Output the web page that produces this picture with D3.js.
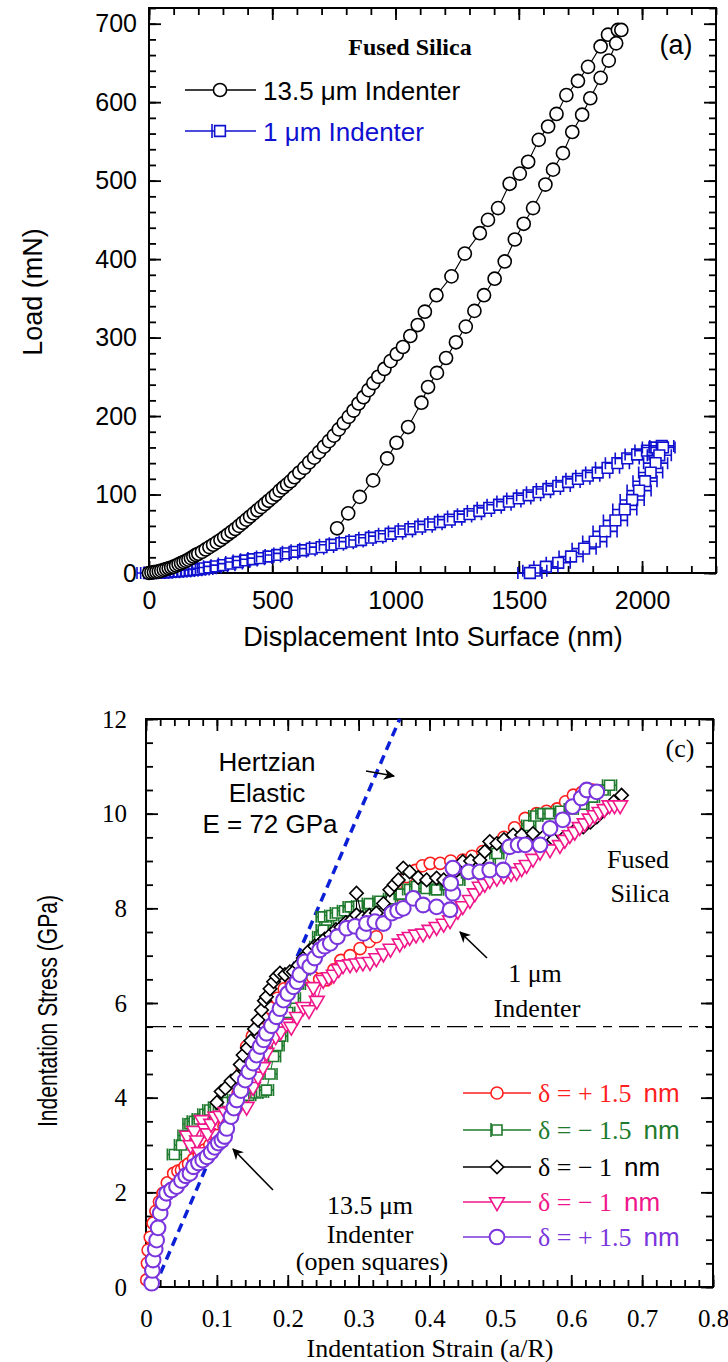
<!DOCTYPE html>
<html>
<head>
<meta charset="utf-8">
<script src="https://cdn.jsdelivr.net/npm/d3@7"></script>
<style>
  body { margin: 0; background: #fff; }
  svg  { display: block; }
</style>
</head>
<body>
<svg width="728" height="1362"></svg>
<script>

const sans  = "'Liberation Sans', Arial, sans-serif";
const serif = "'Liberation Serif', 'Times New Roman', serif";

// ---------- panel (a) data : [displacement nm, load mN] ----------
const bigTipLoad = [
  [0,0],[10,0.5],[20,1],[30,1.5],[40,2],[50,3],[60,4],[70,5],[80,6],[90,7],
  [100,8],[110,9.5],[120,11],[130,12.5],[140,14],[150,15.5],[160,17],[170,19],[180,21],[190,23],
  [200,24.5],[215,27],[230,30],[245,33],[260,36],[275,39],[290,42],[305,45.5],[320,49],[335,52.5],
  [350,56],[365,60],[380,64],[395,68],[410,72],[425,76],[440,80],[455,84],[470,88],[485,92],
  [500,96],[515,100],[530,105],[545,109],[560,113],[575,117],[590,122],[610,128],[630,134],[650,141],
  [670,147],[690,154],[710,161],[730,168],[750,175],[770,183],[790,191],[810,199],[830,207],[850,216],
  [870,224],[890,233],[910,242],[930,250],[955,260],[980,270],[1005,279],[1030,288],[1060,302],[1090,316],
  [1119,333],[1166,354],[1227,378],[1281,407],[1342,433],[1375,450],[1416,465],[1463,496],[1504,509],[1538,524],
  [1581,552],[1619,569],[1653,585],[1693,609],[1740,627],[1781,645],[1832,671],[1862,686],[1902,692]
];
const bigTipUnload = [
  [1916,692],[1895,675],[1865,653],[1832,631],[1790,605],[1757,584],[1717,562],[1679,535],[1639,514],[1608,495],
  [1558,465],[1520,445],[1484,425],[1443,397],[1402,375],[1359,354],[1320,334],[1285,314],[1245,294],[1205,274],
  [1168,255],[1132,237],[1105,217],[1051,186],[1004,166],[966,146],[909,118],[855,97],[808,76],[763,57]
];
const smallTipLoad = [
  [0,0],[15,0],[30,0.5],[45,0.5],[60,1],[75,1],[90,1.5],[105,2],[120,2],[135,2.5],
  [150,3],[165,3.5],[180,4],[195,4.5],[210,5],[225,6],[245,7],[270,8.5],[300,10],[330,12],
  [360,14],[390,16],[420,17.5],[450,19],[485,21],[520,23],[555,25],[590,27],[625,29],[660,31],
  [700,33],[740,36],[780,38],[820,40],[860,42],[900,45],[940,47],[980,50],[1020,53],[1060,56],
  [1100,59],[1140,62],[1180,65],[1220,68],[1260,72],[1300,75],[1340,79],[1380,83],[1420,87],[1460,91],
  [1500,95],[1540,99],[1580,103],[1620,107],[1660,111],[1700,116],[1740,120],[1780,124],[1820,128],[1860,134],
  [1900,140],[1940,146],[1980,151],[2020,156],[2050,160],[2080,162]
];
const smallTipUnload = [
  [2085,160],[2070,150],[2055,140],[2035,128],[2012,117],[1988,105],[1960,93],[1930,81],[1892,67],[1850,53],
  [1808,40],[1765,31],[1712,21],[1660,13],[1610,8],[1565,3],[1545,0]
];
const aXTicks = [0, 500, 1000, 1500, 2000];
const aYTicks = [0, 100, 200, 300, 400, 500, 600, 700];

// ---------- panel (c) data : [strain a/R, stress GPa] ----------
const plus15red = [
  [0.001,0.15],[0.002,0.5],[0.003,0.78],[0.006,1.05],[0.01,1.35],[0.014,1.6],[0.019,1.8],[0.024,1.98],[0.03,2.2],[0.034,2.05],
  [0.039,2.4],[0.045,2.45],[0.05,2.47],[0.055,2.55],[0.06,2.6],[0.067,2.7],[0.075,2.8],[0.083,2.9],[0.09,3.0],[0.1,3.2],
  [0.11,3.4],[0.12,3.7],[0.13,4.1],[0.136,4.6],[0.142,5.08],[0.15,5.3],[0.158,5.5],[0.165,5.7],[0.175,5.9],[0.185,6.1],
  [0.195,6.3],[0.205,6.4],[0.215,6.45],[0.225,6.5],[0.235,6.55],[0.245,6.5],[0.255,6.49],[0.265,6.7],[0.275,6.9],[0.288,7.0],
  [0.302,7.15],[0.315,7.3],[0.325,7.4],[0.335,7.7],[0.345,8.0],[0.355,8.3],[0.368,8.67],[0.38,8.8],[0.39,8.9],[0.401,8.95],
  [0.415,8.95],[0.43,9.0],[0.447,9.02],[0.46,9.1],[0.475,9.2],[0.49,9.35],[0.505,9.5],[0.52,9.7],[0.535,9.9],[0.551,10.0],
  [0.565,10.05],[0.58,10.1],[0.592,10.25],[0.603,10.39],[0.615,10.45],[0.63,10.5]
];
const minus15green = [
  [0.04,2.8],[0.05,3.0],[0.055,3.2],[0.062,3.45],[0.068,3.5],[0.075,3.55],[0.083,3.65],[0.09,3.74],[0.098,3.8],[0.105,3.85],
  [0.115,3.9],[0.125,3.95],[0.135,4.0],[0.145,4.05],[0.155,4.1],[0.163,4.12],[0.17,4.16],[0.175,4.5],[0.18,4.87],[0.185,5.1],
  [0.19,5.3],[0.195,5.55],[0.2,5.8],[0.208,6.1],[0.215,6.4],[0.222,6.7],[0.228,6.95],[0.235,7.05],[0.241,7.19],[0.245,7.4],
  [0.25,7.54],[0.255,7.75],[0.25,7.82],[0.262,7.85],[0.27,7.9],[0.28,7.95],[0.288,8.03],[0.3,8.05],[0.315,8.1],[0.33,8.15],
  [0.345,8.2],[0.36,8.3],[0.372,8.4],[0.382,8.46],[0.395,8.42],[0.41,8.39],[0.425,8.5],[0.44,8.6],[0.455,8.75],[0.47,8.9],
  [0.483,9.05],[0.495,9.16],[0.51,9.3],[0.525,9.5],[0.54,9.75],[0.55,9.95],[0.56,10.0],[0.57,10.0],[0.585,10.05],[0.6,10.1],
  [0.615,10.2],[0.63,10.35],[0.645,10.5],[0.654,10.6]
];
const minus1black = [
  [0.1,3.9],[0.106,4.13],[0.112,4.2],[0.12,4.35],[0.128,4.44],[0.133,4.7],[0.137,4.9],[0.143,5.05],[0.148,5.2],[0.153,5.45],
  [0.158,5.64],[0.163,5.85],[0.167,6.05],[0.17,6.13],[0.175,6.3],[0.18,6.45],[0.184,6.56],[0.189,6.63],[0.196,6.6],[0.203,6.66],
  [0.208,6.66],[0.215,6.8],[0.222,6.95],[0.23,7.1],[0.238,7.2],[0.245,7.25],[0.252,7.35],[0.26,7.44],[0.268,7.55],[0.275,7.6],
  [0.282,7.7],[0.29,7.75],[0.297,7.86],[0.297,8.32],[0.305,7.8],[0.315,7.85],[0.325,7.9],[0.335,8.1],[0.344,8.39],[0.35,8.5],
  [0.356,8.6],[0.363,8.85],[0.372,8.77],[0.384,8.65],[0.396,8.6],[0.41,8.64],[0.42,8.6],[0.429,8.6],[0.438,8.8],[0.447,8.99],
  [0.458,9.0],[0.471,9.02],[0.478,9.2],[0.485,9.41],[0.495,9.37],[0.505,9.45],[0.518,9.55],[0.53,9.55],[0.546,9.58],[0.56,9.5],
  [0.575,9.45],[0.59,9.5],[0.603,9.62],[0.617,9.72],[0.627,9.82],[0.636,9.93],[0.648,10.1],[0.66,10.25],[0.671,10.39]
];
const minus1pink = [
  [0.058,3.2],[0.063,3.0],[0.068,3.3],[0.072,3.1],[0.075,2.85],[0.079,3.53],[0.083,3.35],[0.087,3.25],[0.092,3.45],[0.098,3.6],
  [0.105,3.62],[0.112,3.7],[0.12,3.72],[0.13,3.78],[0.142,3.81],[0.151,4.23],[0.158,4.45],[0.165,4.65],[0.17,4.95],[0.175,5.22],
  [0.183,5.3],[0.19,5.4],[0.198,5.57],[0.205,5.5],[0.213,5.71],[0.222,5.92],[0.23,5.85],[0.236,6.34],[0.241,6.05],[0.25,6.49],
  [0.258,6.55],[0.265,6.6],[0.272,6.72],[0.278,6.8],[0.288,6.82],[0.297,6.84],[0.306,6.86],[0.316,6.87],[0.325,6.95],[0.335,7.05],
  [0.345,7.15],[0.358,7.26],[0.365,7.35],[0.372,7.4],[0.381,7.45],[0.391,7.47],[0.4,7.55],[0.41,7.61],[0.42,7.68],[0.429,7.75],
  [0.44,7.95],[0.447,8.05],[0.457,8.18],[0.464,8.32],[0.471,8.46],[0.478,8.52],[0.485,8.6],[0.495,8.65],[0.505,8.7],[0.515,8.75],
  [0.523,8.77],[0.53,8.85],[0.537,8.92],[0.546,9.05],[0.556,9.2],[0.57,9.25],[0.584,9.34],[0.591,9.45],[0.598,9.55],[0.605,9.62],
  [0.612,9.72],[0.619,9.8],[0.626,9.9],[0.633,9.97],[0.64,10.04],[0.647,10.1],[0.654,10.18],[0.661,10.18],[0.669,10.18]
];
const plus15purple = [
  [0.008,0.08],[0.009,0.35],[0.01,0.57],[0.013,0.8],[0.015,0.99],[0.017,1.25],[0.02,1.56],[0.024,1.78],[0.029,1.98],[0.036,2.05],
  [0.043,2.12],[0.05,2.25],[0.056,2.35],[0.062,2.4],[0.067,2.54],[0.074,2.62],[0.08,2.68],[0.086,2.75],[0.092,2.85],[0.097,2.95],
  [0.102,3.04],[0.107,3.1],[0.111,3.18],[0.114,3.35],[0.12,3.6],[0.124,3.78],[0.128,3.95],[0.134,4.15],[0.14,4.37],[0.145,4.55],
  [0.151,4.73],[0.156,4.9],[0.161,5.08],[0.166,5.22],[0.17,5.36],[0.177,5.52],[0.184,5.71],[0.189,5.88],[0.194,6.06],[0.2,6.2],
  [0.208,6.34],[0.213,6.45],[0.217,6.6],[0.224,6.87],[0.231,6.77],[0.238,6.95],[0.245,7.12],[0.252,7.2],[0.26,7.26],[0.27,7.4],
  [0.283,7.58],[0.295,7.62],[0.307,7.47],[0.311,7.68],[0.323,7.72],[0.335,7.68],[0.347,7.9],[0.355,7.95],[0.363,8.0],[0.377,8.21],
  [0.391,8.07],[0.41,8.03],[0.429,7.97],[0.433,8.32],[0.43,8.53],[0.433,8.85],[0.455,8.77],[0.471,8.77],[0.485,8.81],[0.504,8.81],
  [0.513,9.3],[0.525,9.34],[0.535,9.34],[0.556,9.34],[0.57,9.69],[0.588,9.87],[0.602,10.15],[0.614,10.33],[0.622,10.5],[0.636,10.46]
];
// Hertzian elastic prediction, E = 72 GPa
const hertzStrain = [0.012, 0.358];
const hertzStress = [0.0, 12.0];
const yieldStress = 5.5;

const cXTicks = [0, 0.1, 0.2, 0.3, 0.4, 0.5, 0.6, 0.7, 0.8];
const cYTicks = [0, 2, 4, 6, 8, 10, 12];

const seriesC = [
  {label: "δ = + 1.5", unit: "nm", color: "#ff1f1f", shape: "circle",   data: plus15red},
  {label: "δ = − 1.5", unit: "nm", color: "#1e7a2c", shape: "square",   data: minus15green},
  {label: "δ = − 1",   unit: "nm", color: "#000000", shape: "diamond",  data: minus1black},
  {label: "δ = − 1",   unit: "nm", color: "#f0168a", shape: "triangle", data: minus1pink},
  {label: "δ = + 1.5", unit: "nm", color: "#7b35dc", shape: "bigcircle", data: plus15purple}
];

const svg = d3.select("svg");

// ---------- helpers ----------
function drawFrame(g, x, y, o) {
  const [x0, x1] = x.range();
  const [y0, y1] = y.range();
  const sides = [
    {ax: d3.axisBottom, t: `translate(0,${y0})`, s: x, v: o.xMinor, maj: o.xMajor, lab: true},
    {ax: d3.axisTop,    t: `translate(0,${y1})`, s: x, v: o.xMinor, maj: o.xMajor, lab: false},
    {ax: d3.axisLeft,   t: `translate(${x0},0)`, s: y, v: o.yMinor, maj: o.yMajor, lab: true},
    {ax: d3.axisRight,  t: `translate(${x1},0)`, s: y, v: o.yMinor, maj: o.yMajor, lab: false}
  ];
  sides.forEach(sd => {
    g.append("g").attr("transform", sd.t)
      .call(sd.ax(sd.s).tickValues(sd.v).tickSize(-o.minorLen).tickFormat(""))
      .call(a => a.select(".domain").remove());
    const a = g.append("g").attr("transform", sd.t)
      .call(sd.ax(sd.s).tickValues(sd.maj).tickSize(-o.majorLen)
        .tickPadding(sd.ax === d3.axisBottom ? o.xPad : o.yPad)
        .tickFormat(sd.lab ? o.fmt : ""));
    a.select(".domain").remove();
    a.selectAll("text").attr("font-family", o.font).attr("font-size", o.fontSize).attr("fill", "#000");
  });
  g.selectAll(".tick line").attr("stroke", "#000").attr("stroke-width", 1.8);
  g.append("rect")
    .attr("x", x0).attr("y", y1).attr("width", x1 - x0).attr("height", y0 - y1)
    .attr("fill", "none").attr("stroke", "#000").attr("stroke-width", 2);
}

function marker(shape) {
  if (shape === "circle")    return d3.symbol().type(d3.symbolCircle).size(115)();
  if (shape === "bigcircle") return d3.symbol().type(d3.symbolCircle).size(170)();
  if (shape === "square")    return d3.symbol().type(d3.symbolSquare).size(100)();
  if (shape === "diamond")   return d3.symbol().type(d3.symbolSquare).size(90)();
  if (shape === "triangle")  return d3.symbol().type(d3.symbolTriangle).size(95)();
  if (shape === "bigcircleA") return d3.symbol().type(d3.symbolCircle).size(135)();
  if (shape === "squareA")   return d3.symbol().type(d3.symbolSquare).size(115)();
}
function markerRot(shape) {
  if (shape === "diamond")  return " rotate(45)";
  if (shape === "triangle") return " rotate(180)";
  return "";
}

// draws one series: connecting line, optional x error bars, markers
function drawSeries(g, data, x, y, o) {
  const line = d3.line().x(d => x(d[0])).y(d => y(d[1]));
  g.append("path").datum(data).attr("d", line)
    .attr("fill", "none").attr("stroke", o.color).attr("stroke-width", 1.1);
  const pts = g.selectAll(null).data(data).enter().append("g")
    .attr("transform", d => `translate(${x(d[0])},${y(d[1])})`);
  if (o.errBar) {
    pts.append("path")
      .attr("d", `M${-o.errBar},0H${o.errBar}M${-o.errBar},${-o.cap}V${o.cap}M${o.errBar},${-o.cap}V${o.cap}`)
      .attr("fill", "none").attr("stroke", o.color).attr("stroke-width", o.sw);
  }
  pts.append("path")
    .attr("d", marker(o.shape))
    .attr("transform", "translate(0,0)" + markerRot(o.shape))
    .attr("fill", "#fff").attr("stroke", o.color).attr("stroke-width", o.sw);
}

// ================= panel (a) =================
const xa = d3.scaleLinear().domain([0, 2300]).range([149, 716]);
const ya = d3.scaleLinear().domain([0, 720]).range([573, 8]);
const gA = svg.append("g");

drawFrame(gA, xa, ya, {
  xMajor: aXTicks, yMajor: aYTicks,
  xMinor: d3.range(0, 2301, 100), yMinor: d3.range(0, 721, 20),
  majorLen: 12, minorLen: 7, xPad: 18, yPad: 12,
  fmt: d3.format("d"), font: sans, fontSize: 25
});

const gAData = gA.append("g");
drawSeries(gAData, smallTipLoad.concat(smallTipUnload), xa, ya,
  {color: "#1010d0", shape: "squareA", sw: 1.6, errBar: 12, cap: 6});
drawSeries(gAData, bigTipLoad.concat(bigTipUnload), xa, ya,
  {color: "#000", shape: "bigcircleA", sw: 1.6});

// legend (a)
const legA = gA.append("g");
[{txt: "13.5 μm Indenter", color: "#000", shape: "bigcircleA", y: 90},
 {txt: "1 μm Indenter",    color: "#1010d0", shape: "squareA", y: 131, err: true}]
.forEach(r => {
  legA.append("line").attr("x1", 185).attr("x2", 256).attr("y1", r.y).attr("y2", r.y)
    .attr("stroke", r.color).attr("stroke-width", 1.6);
  if (r.err) legA.append("line").attr("x1", 212).attr("x2", 212).attr("y1", r.y - 7).attr("y2", r.y + 7)
    .attr("stroke", r.color).attr("stroke-width", 1.6);
  legA.append("path").attr("d", marker(r.shape)).attr("transform", `translate(220,${r.y})`)
    .attr("fill", "#fff").attr("stroke", r.color).attr("stroke-width", 1.6);
  legA.append("text").attr("x", 263).attr("y", r.y + 10).text(r.txt)
    .attr("font-family", sans).attr("font-size", 26).attr("fill", r.color);
});
gA.append("text").attr("x", 410).attr("y", 55).attr("text-anchor", "middle")
  .attr("font-family", serif).attr("font-weight", "bold").attr("font-size", 24).text("Fused Silica");
gA.append("text").attr("x", 676).attr("y", 54).attr("text-anchor", "middle")
  .attr("font-family", sans).attr("font-size", 27).text("(a)");

gA.append("text").attr("x", 433).attr("y", 646).attr("text-anchor", "middle")
  .attr("font-family", sans).attr("font-size", 27).text("Displacement Into Surface (nm)");
gA.append("text").attr("transform", "translate(42,292) rotate(-90)").attr("text-anchor", "middle")
  .attr("font-family", sans).attr("font-size", 27).text("Load (mN)");

// ================= panel (c) =================
const xc = d3.scaleLinear().domain([0, 0.8]).range([146, 713]);
const yc = d3.scaleLinear().domain([0, 12]).range([1287, 719]);
const gC = svg.append("g");

drawFrame(gC, xc, yc, {
  xMajor: cXTicks, yMajor: cYTicks,
  xMinor: d3.range(0, 0.801, 0.02), yMinor: d3.range(0, 12.01, 0.5),
  majorLen: 12, minorLen: 7, xPad: 22, yPad: 19,
  fmt: d => d3.format("")(d), font: serif, fontSize: 25
});

// yield level and Hertzian line
gC.append("line").attr("x1", xc(0)).attr("x2", xc(0.8)).attr("y1", yc(yieldStress)).attr("y2", yc(yieldStress))
  .attr("stroke", "#000").attr("stroke-width", 1.4).attr("stroke-dasharray", "20,7,9,7");
gC.append("path").datum(d3.zip(hertzStrain, hertzStress))
  .attr("d", d3.line().x(d => xc(d[0])).y(d => yc(d[1])))
  .attr("fill", "none").attr("stroke", "#0b1fd6").attr("stroke-width", 3.5).attr("stroke-dasharray", "9,6");

const gCData = gC.append("g");
seriesC.forEach(s => {
  drawSeries(gCData, s.data, xc, yc, {
    color: s.color, shape: s.shape,
    sw: s.shape === "bigcircle" ? 2.1 : 1.6,
    errBar: s.shape === "square" ? 7 : 0, cap: 6
  });
});

// legend (c)
const legC = gC.append("g");
const legRows = [1093, 1130, 1167, 1202, 1237];
seriesC.forEach((s, i) => {
  const y = legRows[i];
  legC.append("line").attr("x1", 463).attr("x2", 531).attr("y1", y).attr("y2", y)
    .attr("stroke", s.color).attr("stroke-width", 1.6);
  if (s.shape === "square") legC.append("line").attr("x1", 491).attr("x2", 491).attr("y1", y - 7).attr("y2", y + 7)
    .attr("stroke", s.color).attr("stroke-width", 1.6);
  legC.append("path").attr("d", marker(s.shape)).attr("transform", `translate(497,${y})` + markerRot(s.shape))
    .attr("fill", "#fff").attr("stroke", s.color).attr("stroke-width", s.shape === "bigcircle" ? 2 : 1.6);
  const t = legC.append("text").attr("x", 538).attr("y", y + 9).attr("fill", s.color).attr("font-size", 26);
  t.append("tspan").attr("font-family", serif).text(s.label);
  t.append("tspan").attr("font-family", sans).attr("dx", 12).text(s.unit);
});

// annotations (c)
const annC = gC.append("g").attr("text-anchor", "middle").attr("font-size", 26);
annC.append("text").attr("x", 267).attr("y", 771).attr("font-family", sans).text("Hertzian");
annC.append("text").attr("x", 267).attr("y", 802).attr("font-family", sans).text("Elastic");
annC.append("text").attr("x", 270).attr("y", 833).attr("font-family", sans).text("E = 72 GPa");
annC.append("text").attr("x", 638).attr("y", 868).attr("font-family", serif).text("Fused");
annC.append("text").attr("x", 640).attr("y", 902).attr("font-family", serif).text("Silica");
annC.append("text").attr("x", 535).attr("y", 982).attr("font-family", serif).text("1 μm");
annC.append("text").attr("x", 537).attr("y", 1017).attr("font-family", serif).text("Indenter");
annC.append("text").attr("x", 370).attr("y", 1214).attr("font-family", serif).text("13.5 μm");
annC.append("text").attr("x", 370).attr("y", 1243).attr("font-family", serif).text("Indenter");
annC.append("text").attr("x", 372).attr("y", 1270).attr("font-family", serif).text("(open squares)");
annC.append("text").attr("x", 680).attr("y", 757).attr("font-family", serif).text("(c)");

svg.append("defs").append("marker").attr("id", "ah")
  .attr("viewBox", "0 0 10 10").attr("refX", 9).attr("refY", 5)
  .attr("markerWidth", 7).attr("markerHeight", 7).attr("orient", "auto-start-reverse")
  .append("path").attr("d", "M0,0L10,5L0,10L3,5Z").attr("fill", "#000");
[[366, 771, 394, 776], [487, 958, 460, 932], [273, 1190, 233, 1149]].forEach(a => {
  gC.append("line").attr("x1", a[0]).attr("y1", a[1]).attr("x2", a[2]).attr("y2", a[3])
    .attr("stroke", "#000").attr("stroke-width", 1.6).attr("marker-end", "url(#ah)");
});

gC.append("text").attr("x", 430).attr("y", 1357).attr("text-anchor", "middle")
  .attr("font-family", serif).attr("font-size", 26).text("Indentation Strain (a/R)");
gC.append("text").attr("transform", "translate(57,1011) rotate(-90)").attr("text-anchor", "middle")
  .attr("font-family", sans).attr("font-size", 28)
  .attr("textLength", 232).attr("lengthAdjust", "spacingAndGlyphs")
  .text("Indentation Stress (GPa)");

</script>
</body>
</html>
